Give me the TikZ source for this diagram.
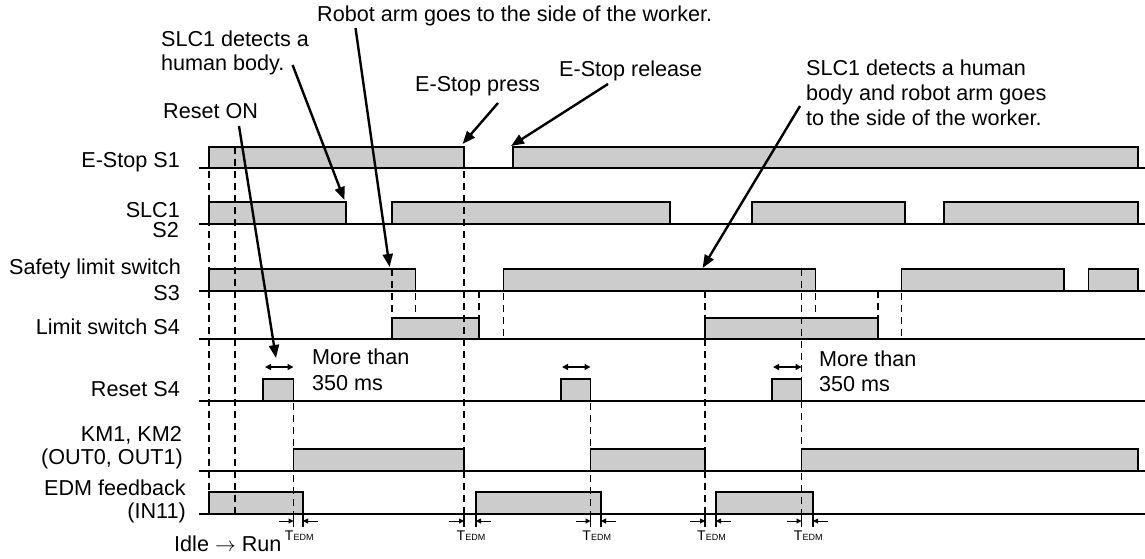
\documentclass[tikz,border=0pt]{standalone}
\usepackage{fontspec}
\setmainfont{Liberation Sans}
\usetikzlibrary{arrows.meta}
\definecolor{boxgray}{RGB}{204,204,204}
\newcommand{\tpulse}[4]{%
  \fill[boxgray] (#1,#3) rectangle (#2,#4);
  \draw[edgeline] (#1,#4) -- (#1,#3) -- (#2,#3) -- (#2,#4);}
\newcommand{\tedmmark}[3]{%
  \draw[tick] (#1,514) -- (#1,527);
  \draw[tick] (#2,514) -- (#2,527);
  \coordinate (#3a) at ({#1-15},521);
  \coordinate (#3b) at (#1,521);
  \coordinate (#3c) at ({#2+15},521);
  \coordinate (#3d) at (#2,521);
  \draw[tarrow] (#3a) -- (#3b);
  \draw[tarrow] (#3c) -- (#3d);
  \node[tedmlbl, anchor=base] (#3t) at ({(#1+#2)/2+1},540) {{\fontsize{14}{14}\selectfont T}{\fontsize{9}{9}\selectfont EDM}};}
\begin{document}
\begin{tikzpicture}[x=1pt,y=-1pt,
  edgeline/.style={line width=1.2pt, line join=miter},
  levelline/.style={line width=1.3pt},
  dline/.style={line width=1.15pt, dash pattern=on 7pt off 5pt},
  tick/.style={line width=1.1pt},
  lbl/.style={font=\fontsize{21.6}{25}\selectfont, inner sep=0pt},
  callout/.style={line width=2.4pt, -{Triangle[length=13pt,width=10pt]}},
  dbl/.style={line width=1.3pt, {Triangle[length=6pt,width=6pt]}-{Triangle[length=6pt,width=6pt]}},
  tarrow/.style={line width=1pt, -{Triangle[length=5pt,width=5pt]}},
  tedmlbl/.style={inner sep=0pt}
]
\useasboundingbox (0,0) rectangle (1145,558);

% ---- waveforms ----
% E-Stop S1
\tpulse{209}{464}{147}{168}
\tpulse{513}{1138}{147}{168}
% SLC1 S2
\tpulse{209}{346}{202}{224}
\tpulse{392}{670}{202}{224}
\tpulse{752}{905}{202}{224}
\tpulse{944}{1138}{202}{224}
% S3
\tpulse{209}{415.5}{269}{291}
\tpulse{503.5}{815.6}{269}{291}
\tpulse{901.5}{1064}{269}{291}
\tpulse{1088.5}{1138}{269}{291}
% S4
\tpulse{392}{479}{318}{339}
\tpulse{705}{878}{318}{339}
% Reset
\tpulse{263}{293.5}{379}{401}
\tpulse{561}{590.5}{379}{401}
\tpulse{772}{801.5}{379}{401}
% KM
\tpulse{293.5}{464}{449}{471}
\tpulse{590.5}{705}{449}{471}
\tpulse{801.5}{1138}{449}{471}
% EDM
\tpulse{209}{303}{492}{514}
\tpulse{476}{601}{492}{514}
\tpulse{716}{813}{492}{514}

% level lines
\foreach \yy in {168,224,291,339,401,471,514}
  \draw[levelline] (199,\yy) -- (1145,\yy);

% ---- dashed guide lines ----
\draw[dline] (209,147) -- (209,514);
\draw[dline] (235,147) -- (235,514);
\draw[dline] (464,147) -- (464,514);
\draw[dline] (392,269) -- (392,318);
\draw[dline] (415.5,269) -- (415.5,318);
\draw[dline] (479,291) -- (479,318);
\draw[dline] (503.5,269) -- (503.5,339);
\draw[dline] (293.5,379) -- (293.5,514);
\draw[dline] (590.5,379) -- (590.5,514);
\draw[dline] (705,291) -- (705,514);
\draw[dline] (801.5,269) -- (801.5,514);
\draw[dline] (815.6,269) -- (815.6,318);
\draw[dline] (878,291) -- (878,318);
\draw[dline] (901.5,269) -- (901.5,339);

% ---- TEDM marks ----
\tedmmark{293.5}{303}{ta}
\tedmmark{464}{476}{tb}
\tedmmark{590.5}{601}{tc}
\tedmmark{705}{716}{td}
\tedmmark{801.5}{813}{te}

% ---- 350 ms double arrows ----
\coordinate (da1) at (265,367); \coordinate (da2) at (293.5,367);
\coordinate (db1) at (562,367); \coordinate (db2) at (590.5,367);
\coordinate (dc1) at (773,367); \coordinate (dc2) at (801.5,367);
\draw[dbl] (da1) -- (da2);
\draw[dbl] (db1) -- (db2);
\draw[dbl] (dc1) -- (dc2);

% ---- row labels ----
\node[lbl, anchor=base east] (n1) at (180,167) {E-Stop S1};
\node[lbl, anchor=base east, text depth=0pt] (n2a) at (180,217.5) {SLC1};
\node[lbl, anchor=base east] (n2b) at (179,237.5) {S2};
\node[lbl, anchor=base east] (n3a) at (181,274) {Safety limit switch};
\node[lbl, anchor=base east] (n3b) at (180,300) {S3};
\node[lbl, anchor=base east] (n4) at (180,334) {Limit switch S4};
\node[lbl, anchor=base east] (n5) at (180,396) {Reset S4};
\node[lbl, anchor=base east] (n6a) at (182,441) {KM1, KM2};
\node[lbl, anchor=base east] (n6b) at (183,464) {(OUT0, OUT1)};
\node[lbl, anchor=base east] (n7a) at (186,495) {EDM feedback};
\node[lbl, anchor=base east] (n7b) at (186,518) {(IN11)};
\node[lbl, anchor=base west] (idle) at (174,551) {Idle $\rightarrow$ Run};

% ---- annotations ----
\node[lbl, anchor=base west] (t1) at (317,21) {Robot arm goes to the side of the worker.};
\node[lbl, anchor=base west] (t2a) at (161,46) {SLC1 detects a};
\node[lbl, anchor=base west] (t2b) at (161,70.5) {human body.};
\node[lbl, anchor=base west] (t3) at (415,91) {E-Stop press};
\node[lbl, anchor=base west] (t4) at (163,118) {Reset ON};
\node[lbl, anchor=base west] (t5) at (559,76) {E-Stop release};
\node[lbl, anchor=base west] (t6a) at (806,75) {SLC1 detects a human};
\node[lbl, anchor=base west] (t6b) at (806,100) {body and robot arm goes};
\node[lbl, anchor=base west] (t6c) at (806,125) {to the side of the worker.};
\node[lbl, anchor=base west] (m1a) at (312,364) {More than};
\node[lbl, anchor=base west] (m1b) at (312,390) {350 ms};
\node[lbl, anchor=base west] (m2a) at (819,366) {More than};
\node[lbl, anchor=base west] (m2b) at (819,391) {350 ms};

% ---- callout arrows ----
\coordinate (c1s) at (292.6,65);  \coordinate (c1t) at (344.4,200);
\coordinate (c2s) at (355.5,28);  \coordinate (c2t) at (389.6,267);
\coordinate (c3s) at (498,103);   \coordinate (c3t) at (462.5,144);
\coordinate (c4s) at (608,84);    \coordinate (c4t) at (511,146);
\coordinate (c5s) at (239,126);   \coordinate (c5t) at (276,358);
\coordinate (c6s) at (800,106);   \coordinate (c6t) at (702.6,268);
\draw[callout] (c1s) -- (c1t);
\draw[callout] (c2s) -- (c2t);
\draw[callout] (c3s) -- (c3t);
\draw[callout] (c4s) -- (c4t);
\draw[callout] (c5s) -- (c5t);
\draw[callout] (c6s) -- (c6t);
\end{tikzpicture}
\end{document}
